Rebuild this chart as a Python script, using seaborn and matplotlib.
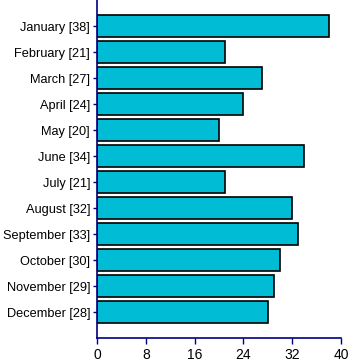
import matplotlib
matplotlib.use("Agg")
import matplotlib.pyplot as plt
import seaborn as sns
import pandas as pd

months = ["January", "February", "March", "April", "May", "June", "July",
          "August", "September", "October", "November", "December"]
values = [38, 21, 27, 24, 20, 34, 21, 32, 33, 30, 29, 28]
xticks = [0, 8, 16, 24, 32, 40]

labels = [f"{m} [{v}]" for m, v in zip(months, values)]
df = pd.DataFrame({"label": labels, "value": values})

sns.set_style("white")
plt.rcParams['font.family'] = ['Liberation Sans', 'DejaVu Sans']

fig = plt.figure(figsize=(3.5, 3.64), dpi=100)
ax = fig.add_axes([97/350, 1 - 338/364, (341-97)/350, 338/364])

sns.barplot(data=df, x="value", y="label", orient="h", color="#00BCD4",
            saturation=1, edgecolor="black", linewidth=1.2, width=0.85, ax=ax)

ax.set_xlim(0, 40)
ax.set_ylim(12, -1)
ax.set_xticks(xticks)
ax.set_xlabel("")
ax.set_ylabel("")
for s in ["top", "right"]:
    ax.spines[s].set_visible(False)
for s in ["left", "bottom"]:
    ax.spines[s].set_color("#000080")
    ax.spines[s].set_linewidth(1.2)
ax.tick_params(axis="both", colors="#000080", labelcolor="black", length=4,
               width=1, labelsize=9.2, direction="out", left=True, bottom=True)
ax.tick_params(axis="y", length=3, pad=2)
ax.tick_params(axis="x", labelsize=10)

fig.savefig("out.png", dpi=100)
